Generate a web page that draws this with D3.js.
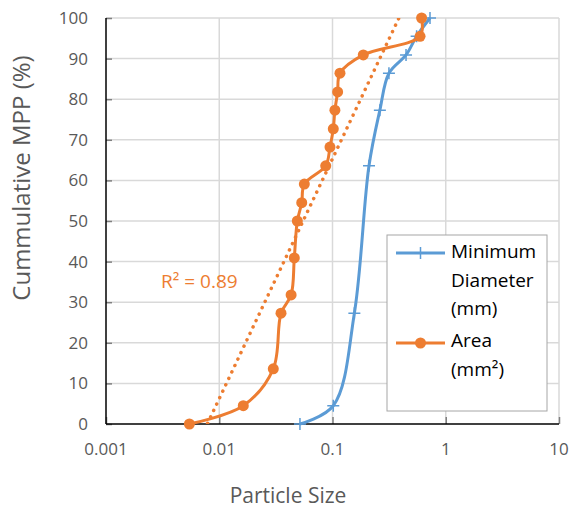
<!DOCTYPE html>
<meta charset="utf-8">
<html>
  <head>
    <script src="https://cdn.jsdelivr.net/npm/d3@7"></script>
    <style>
      body { margin: 0; background: #fff; }
      text { font-family: "Open Sans", sans-serif; }
    </style>
  </head>
  <body>
    <div id="chart"></div>

    <script type="text/javascript">
      var width = 570, height = 509,
          plot = { left: 106, right: 559, top: 18, bottom: 424 },
          blue = "#5b9bd5",
          orange = "#ed7d31";

      // Minimum Diameter (mm)
      var diamX = [0.0516, 0.1016, 0.156, 0.210, 0.262, 0.315, 0.446, 0.553, 0.726];
      var diamY = [0, 4.5, 27.3, 63.6, 77.3, 86.4, 90.9, 95.5, 100];

      // Area (mm²)
      var areaX = [0.00545, 0.0163, 0.030, 0.0351, 0.0431, 0.046, 0.0489, 0.0535, 0.0564,
                   0.0871, 0.095, 0.1016, 0.105, 0.111, 0.1164, 0.187, 0.593, 0.612];
      var areaY = [0, 4.5, 13.6, 27.3, 31.8, 40.9, 50, 54.5, 59.1,
                   63.6, 68.2, 72.7, 77.3, 81.8, 86.4, 90.9, 95.5, 100];

      var xTicks = [0.001, 0.01, 0.1, 1, 10];
      var xTickLabels = ["0.001", "0.01", "0.1", "1", "10"];
      var yTicks = [0, 10, 20, 30, 40, 50, 60, 70, 80, 90, 100];

      var diamData = diamX.map(function(d, i){ return { x: d, y: diamY[i] }; });
      var areaData = areaX.map(function(d, i){ return { x: d, y: areaY[i] }; });

      var x = d3.scaleLog().domain([0.001, 10]).range([plot.left, plot.right]);
      var y = d3.scaleLinear().domain([0, 100]).range([plot.bottom, plot.top]);

      var svg = d3.select("#chart").append("svg")
          .attr("width", width)
          .attr("height", height);

      svg.append("defs").append("clipPath").attr("id", "plotclip")
          .append("rect")
          .attr("x", plot.left).attr("y", plot.top)
          .attr("width", plot.right - plot.left).attr("height", plot.bottom - plot.top);

      // gridlines
      svg.append("g").selectAll("line")
          .data(yTicks.filter(function(d){ return d > 0; }))
          .enter().append("line")
          .attr("x1", plot.left).attr("x2", plot.right)
          .attr("y1", function(d){ return y(d); }).attr("y2", function(d){ return y(d); })
          .style("stroke", "#d9d9d9").style("stroke-width", "1.5px");

      svg.append("g").selectAll("line")
          .data(xTicks.slice(1))
          .enter().append("line")
          .attr("x1", function(d){ return x(d); }).attr("x2", function(d){ return x(d); })
          .attr("y1", plot.top).attr("y2", plot.bottom)
          .style("stroke", "#d9d9d9").style("stroke-width", "1.5px");

      // axes
      var yAxis = d3.axisRight(y).tickValues(yTicks).tickSize(6).tickFormat("");
      svg.append("g").attr("transform", "translate(" + plot.left + ",0)").call(yAxis)
          .call(function(g){
            g.select(".domain").remove();
            g.selectAll(".tick line").style("stroke", "#7f7f7f").style("stroke-width", "1.5px");
          });

      var xAxis = d3.axisTop(x).tickValues(xTicks).tickSize(7).tickFormat("");
      svg.append("g").attr("transform", "translate(0," + plot.bottom + ")").call(xAxis)
          .call(function(g){
            g.select(".domain").remove();
            g.selectAll(".tick line").style("stroke", "#7f7f7f").style("stroke-width", "1.5px");
          });

      svg.append("line")
          .attr("x1", plot.left).attr("x2", plot.left)
          .attr("y1", plot.top).attr("y2", plot.bottom)
          .style("stroke", "#000").style("stroke-width", "1.5px");
      svg.append("line")
          .attr("x1", plot.left).attr("x2", plot.right)
          .attr("y1", plot.bottom).attr("y2", plot.bottom)
          .style("stroke", "#000").style("stroke-width", "1.5px");

      // tick labels
      svg.append("g").selectAll("text")
          .data(yTicks)
          .enter().append("text")
          .attr("x", 88)
          .attr("y", function(d){ return y(d) + 6; })
          .attr("text-anchor", "end")
          .style("font-size", "17px")
          .style("fill", "#595959")
          .text(function(d){ return d; });

      svg.append("g").selectAll("text")
          .data(xTicks)
          .enter().append("text")
          .attr("x", function(d){ return x(d); })
          .attr("y", 455)
          .attr("text-anchor", "middle")
          .style("font-size", "17px")
          .style("fill", "#595959")
          .text(function(d, i){ return xTickLabels[i]; });

      // axis titles
      svg.append("text")
          .attr("x", 288).attr("y", 503)
          .attr("text-anchor", "middle")
          .style("font-size", "21px")
          .style("fill", "#595959")
          .text("Particle Size");

      svg.append("text")
          .attr("transform", "translate(30,178) rotate(-90)")
          .attr("text-anchor", "middle")
          .style("font-size", "24px")
          .style("fill", "#595959")
          .text("Cummulative MPP (%)");

      // logarithmic trendline for Area
      var lx = areaData.map(function(d){ return Math.log10(d.x); }),
          mx = d3.mean(lx), my = d3.mean(areaY),
          sxy = d3.sum(lx, function(v, i){ return (v - mx) * (areaY[i] - my); }),
          sxx = d3.sum(lx, function(v){ return (v - mx) * (v - mx); }),
          slope = sxy / sxx,
          icpt = my - slope * mx;
      var xmin = d3.min(areaX), xmax = d3.max(areaX);
      var trend = [xmin, xmax].map(function(v){ return { x: v, y: icpt + slope * Math.log10(v) }; });

      var line = d3.line()
          .x(function(d){ return x(d.x); })
          .y(function(d){ return y(d.y); });

      svg.append("path")
          .datum(trend)
          .attr("clip-path", "url(#plotclip)")
          .attr("d", line)
          .style("fill", "none")
          .style("stroke", orange)
          .style("stroke-width", "3.5px")
          .style("stroke-linecap", "round")
          .style("stroke-dasharray", "0.1,7");

      var smooth = d3.line()
          .x(function(d){ return x(d.x); })
          .y(function(d){ return y(d.y); })
          .curve(d3.curveCatmullRom.alpha(0.5));

      svg.append("path")
          .datum(diamData)
          .attr("d", smooth)
          .style("fill", "none")
          .style("stroke", blue)
          .style("stroke-width", "3px");

      svg.append("g").selectAll("path")
          .data(diamData)
          .enter().append("path")
          .attr("d", function(d){
            var cx = x(d.x), cy = y(d.y);
            return "M" + (cx - 6) + "," + cy + "H" + (cx + 6) + "M" + cx + "," + (cy - 6) + "V" + (cy + 6);
          })
          .style("stroke", blue)
          .style("stroke-width", "1.5px");

      svg.append("path")
          .datum(areaData)
          .attr("d", smooth)
          .style("fill", "none")
          .style("stroke", orange)
          .style("stroke-width", "3px");

      svg.append("g").selectAll("circle")
          .data(areaData)
          .enter().append("circle")
          .attr("cx", function(d){ return x(d.x); })
          .attr("cy", function(d){ return y(d.y); })
          .attr("r", 5.5)
          .style("fill", orange);

      svg.append("text")
          .attr("x", 161).attr("y", 288)
          .style("font-size", "19px")
          .style("fill", orange)
          .text("R² = 0.89");

      // legend
      var legend = svg.append("g");
      legend.append("rect")
          .attr("x", 387).attr("y", 235)
          .attr("width", 160).attr("height", 176)
          .style("fill", "#fff")
          .style("stroke", "#a6a6a6")
          .style("stroke-width", "1px");

      var items = [
        { color: blue, marker: "plus", ly: 253, lines: ["Minimum", "Diameter", "(mm)"], ty: 258 },
        { color: orange, marker: "circle", ly: 343, lines: ["Area", "(mm²)"], ty: 347 }
      ];
      items.forEach(function(it){
        legend.append("line")
            .attr("x1", 396).attr("x2", 445)
            .attr("y1", it.ly).attr("y2", it.ly)
            .style("stroke", it.color).style("stroke-width", "3px");
        if (it.marker == "plus") {
          legend.append("path")
              .attr("d", "M414.5," + it.ly + "H426.5M420.5," + (it.ly - 6) + "V" + (it.ly + 6))
              .style("stroke", it.color).style("stroke-width", "1.5px");
        } else {
          legend.append("circle").attr("cx", 420.5).attr("cy", it.ly).attr("r", 5.5)
              .style("fill", it.color);
        }
        it.lines.forEach(function(t, k){
          legend.append("text")
              .attr("x", 451).attr("y", it.ty + k * 28.5)
              .style("font-size", "19px")
              .style("fill", "#000")
              .text(t);
        });
      });
    </script>
  </body>
</html>
